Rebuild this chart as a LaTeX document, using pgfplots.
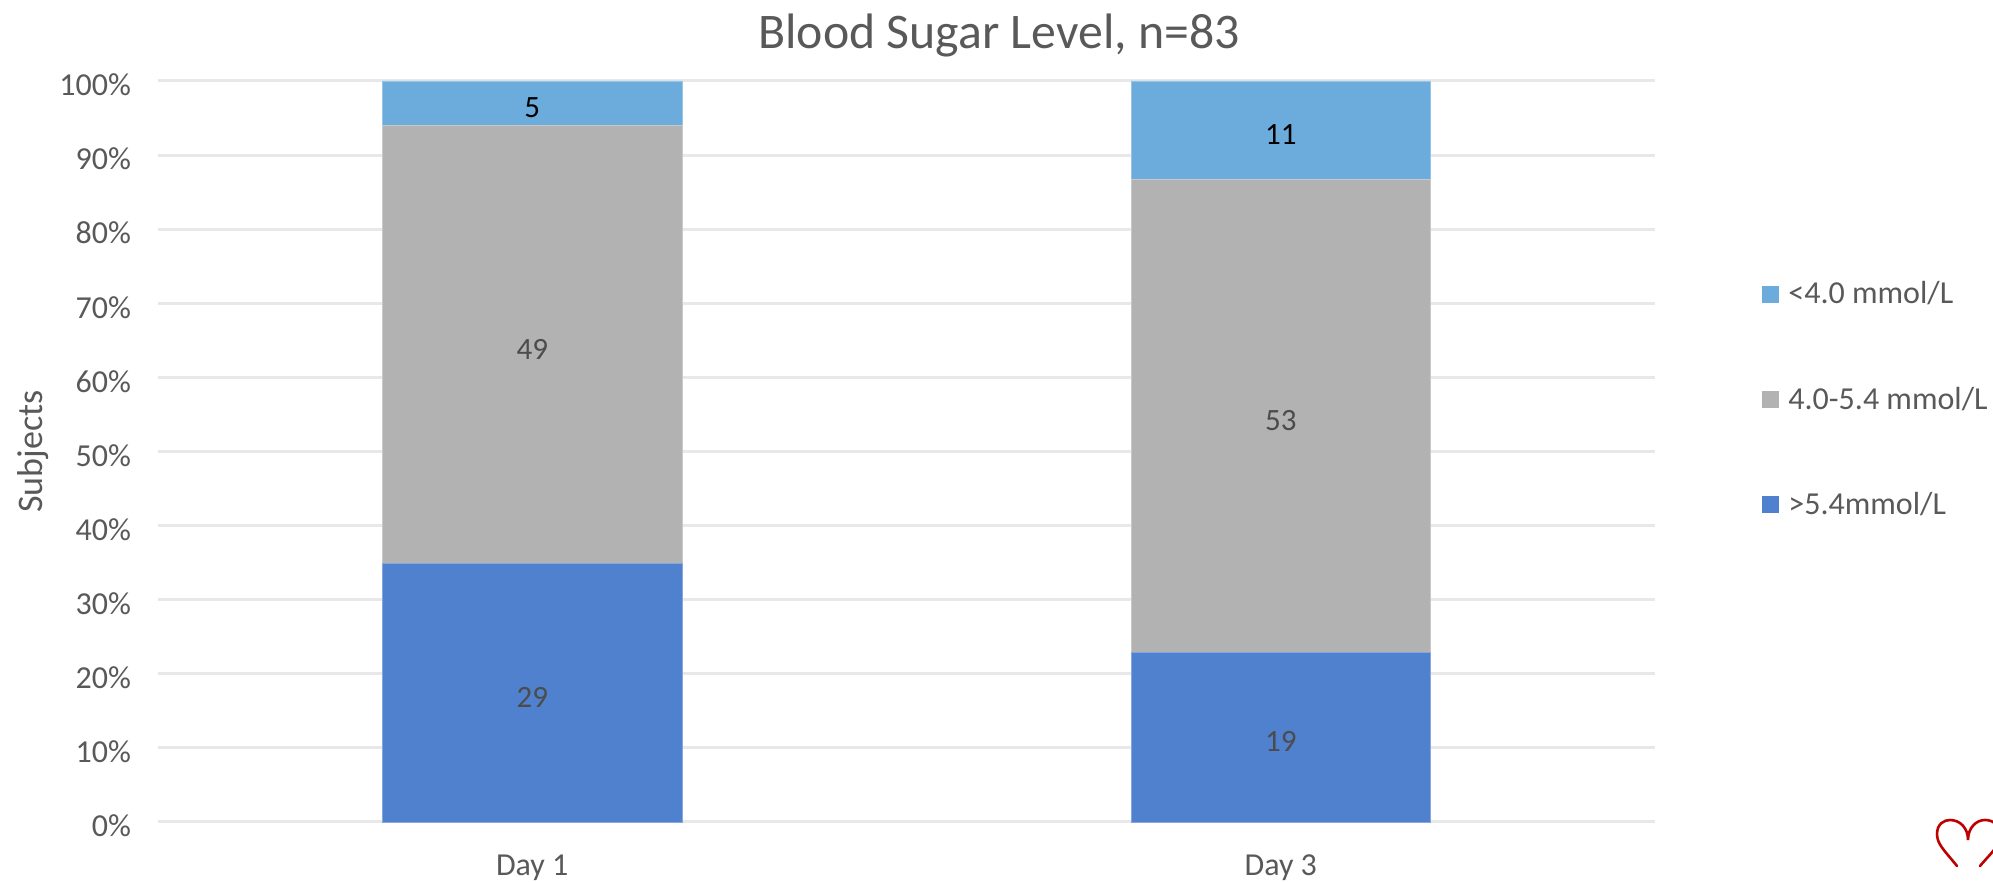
\documentclass[border=0pt]{standalone}
\usepackage{fontspec}
\setmainfont{Carlito}
\usepackage{pgfplots}
\usepackage{pgfplotstable}
\pgfplotsset{compat=1.18}
\definecolor{lowc}{HTML}{6BACDC}
\definecolor{midc}{HTML}{B2B2B2}
\definecolor{highc}{HTML}{5081CF}
\definecolor{txt}{HTML}{595959}
\definecolor{gridc}{HTML}{E8E8E8}
\pgfplotstableread{
x pct n
0 34.94 29
1 22.89 19
}\high
\pgfplotstableread{
x pct n
0 59.04 49
1 63.86 53
}\mid
\pgfplotstableread{
x pct n
0 6.02 5
1 13.25 11
}\low
\begin{document}
\begin{tikzpicture}
\path[use as bounding box] (-79pt,-30pt) rectangle (917.5pt,411pt);
\begin{axis}[
  at={(0pt,0pt)}, anchor=south west,
  scale only axis, width=748.5pt, height=370.5pt,
  ybar stacked, bar width=149.75pt,
  xmin=-0.5, xmax=1.5, ymin=0, ymax=100,
  xtick={0,1}, xticklabels={Day 1,Day 3},
  ytick={0,10,...,100},
  yticklabels={0\%,10\%,20\%,30\%,40\%,50\%,60\%,70\%,80\%,90\%,100\%},
  ymajorgrids, grid style={gridc, line width=1.5pt},
  axis line style={draw=none}, tick style={draw=none},
  tick label style={font=\fontsize{16}{18}\selectfont, text=txt},
  yticklabel style={xshift=-10pt, yshift=-2pt},
  xticklabel style={yshift=-13pt},
  ylabel={Subjects}, ylabel style={font=\fontsize{18}{20}\selectfont, text=txt, yshift=-1.5pt},
  title={Blood Sugar Level, n=83},
  title style={font=\fontsize{24.9}{28}\selectfont, text=txt, at={(0.5618,1)}, anchor=base, yshift=10pt},
  clip=false, axis on top=false,
  point meta=explicit symbolic,
  nodes near coords,
  every node near coord/.append style={font=\fontsize{15.5}{18}\selectfont, anchor=center, yshift=-2.3pt},
  legend style={draw=none, fill=none, at={(1.0,0.5)}, anchor=west, font=\fontsize{16}{18}\selectfont, text=txt, row sep=36pt, xshift=50.5pt, yshift=26pt, /tikz/every even column/.append style={column sep=2pt}, /tikz/every odd column/.append style={column sep=2.5pt}},
  legend cell align=left, reverse legend,
  legend image code/.code={\fill[#1,draw=none] (0pt,-4.3pt) rectangle (8.5pt,4.3pt);},
]
\addplot[fill=highc, draw=highc!70!white, line width=0.4pt, text=txt!85!black] table[x=x, y=pct, meta=n] {\high};
\addlegendentry{>5.4mmol/L}
\addplot[fill=midc, draw=midc!70!white, line width=0.4pt, text=txt!85!black] table[x=x, y=pct, meta=n] {\mid};
\addlegendentry{4.0-5.4 mmol/L}
\addplot[fill=lowc, draw=lowc!70!white, line width=0.4pt, text=black] table[x=x, y=pct, meta=n] {\low};
\addlegendentry{<4.0 mmol/L}
\end{axis}
\draw[red!75!black, line width=1.3pt, line cap=round] (899.5pt,-22pt) .. controls (893pt,-14pt) and (889.5pt,-11pt) .. (889.5pt,-6pt) .. controls (889.5pt,-1pt) and (893pt,1pt) .. (896pt,1pt) .. controls (901pt,1pt) and (905pt,-3pt) .. (905pt,-9pt) .. controls (905pt,-3pt) and (909pt,1pt) .. (913.5pt,1pt) .. controls (918pt,1pt) and (921pt,-2pt) .. (921pt,-7pt) .. controls (921pt,-12pt) and (916pt,-16pt) .. (911pt,-22pt);
\end{tikzpicture}
\end{document}
